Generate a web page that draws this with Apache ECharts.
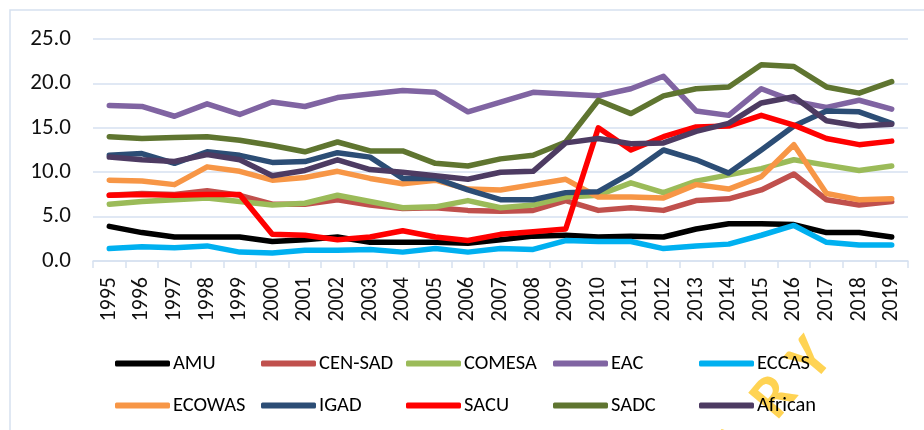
<!DOCTYPE html>
<html>
<head>
<meta charset="utf-8">
<script src="https://cdn.jsdelivr.net/npm/echarts@6/dist/echarts.min.js"></script>
<style>
  html, body { margin: 0; padding: 0; background: #fff; }
  #chart { width: 924px; height: 430px; }
</style>
</head>
<body>
<div id="chart"></div>
<script>
// values
var years = ['1995', '1996', '1997', '1998', '1999', '2000', '2001', '2002', '2003', '2004', '2005', '2006',
    '2007', '2008', '2009', '2010', '2011', '2012', '2013', '2014', '2015', '2016', '2017', '2018', '2019'];

var amu = [3.9, 3.2, 2.7, 2.7, 2.7, 2.2, 2.4, 2.7, 2.1, 2.1, 2.1, 2.0, 2.4, 2.8, 2.9, 2.7, 2.8, 2.7, 3.6, 4.2, 4.2, 4.1, 3.2, 3.2, 2.7];
var cenSad = [7.4, 7.6, 7.5, 7.9, 7.4, 6.4, 6.4, 6.9, 6.3, 5.9, 6.0, 5.7, 5.6, 5.7, 6.8, 5.7, 6.0, 5.7, 6.8, 7.0, 8.0, 9.8, 6.9, 6.3, 6.7];
var comesa = [6.4, 6.7, 6.9, 7.1, 6.7, 6.3, 6.5, 7.4, 6.7, 6.0, 6.1, 6.8, 6.0, 6.3, 7.2, 7.4, 8.8, 7.7, 9.0, 9.7, 10.4, 11.4, 10.8, 10.2, 10.7];
var eac = [17.5, 17.4, 16.3, 17.7, 16.5, 17.9, 17.4, 18.4, 18.8, 19.2, 19.0, 16.8, 17.9, 19.0, 18.8, 18.6, 19.4, 20.8, 16.9, 16.4, 19.4, 18.0, 17.3, 18.1, 17.1];
var eccas = [1.4, 1.6, 1.5, 1.7, 1.0, 0.9, 1.2, 1.2, 1.3, 1.0, 1.4, 1.0, 1.4, 1.3, 2.3, 2.2, 2.2, 1.4, 1.7, 1.9, 2.9, 4.0, 2.1, 1.8, 1.8];
var ecowas = [9.1, 9.0, 8.6, 10.6, 10.1, 9.1, 9.4, 10.1, 9.3, 8.7, 9.1, 8.1, 8.0, 8.6, 9.2, 7.2, 7.2, 7.1, 8.6, 8.1, 9.5, 13.1, 7.6, 6.9, 7.0];
var igad = [11.9, 12.1, 11.0, 12.3, 11.9, 11.1, 11.2, 12.2, 11.7, 9.3, 9.3, 8.0, 6.9, 6.9, 7.7, 7.8, 9.9, 12.5, 11.4, 9.9, 12.5, 15.2, 16.9, 16.8, 15.5];
var sacu = [7.4, 7.5, 7.4, 7.5, 7.5, 3.0, 2.9, 2.4, 2.7, 3.4, 2.7, 2.3, 3.0, 3.3, 3.6, 15.0, 12.5, 14.0, 15.1, 15.2, 16.4, 15.3, 13.8, 13.1, 13.5];
var sadc = [14.0, 13.8, 13.9, 14.0, 13.6, 13.0, 12.3, 13.4, 12.4, 12.4, 11.0, 10.7, 11.5, 11.9, 13.4, 18.1, 16.6, 18.6, 19.4, 19.6, 22.1, 21.9, 19.6, 18.9, 20.2];
var african = [11.7, 11.4, 11.2, 12.0, 11.4, 9.6, 10.2, 11.4, 10.3, 10.0, 9.6, 9.2, 10.0, 10.1, 13.3, 13.8, 13.2, 13.3, 14.6, 15.5, 17.8, 18.5, 15.8, 15.2, 15.4];

var names = ['AMU', 'CEN-SAD', 'COMESA', 'EAC', 'ECCAS', 'ECOWAS', 'IGAD', 'SACU', 'SADC', 'African'];
var values = [amu, cenSad, comesa, eac, eccas, ecowas, igad, sacu, sadc, african];
var colors = ['#000000', '#c0504d', '#9bbb59', '#8064a2', '#00b0f0', '#f79646', '#2c4d75', '#ff0000', '#5f7530', '#4d3b62'];

var gridColor = '#d6e1f0';
var textFont = 'Carlito, "Liberation Sans", Arial, sans-serif';

// legend slots: two rows of five, like the excel layout
var legendLeft = [115, 261, 406, 553, 699, 115, 261, 406, 553, 699];
var legendTop = [353, 353, 353, 353, 353, 395, 395, 395, 395, 395];

var chart = echarts.init(document.getElementById('chart'), null, { renderer: 'canvas' });

function buildSeries() {
    return names.map(function (n, i) {
        return {
            name: n,
            type: 'line',
            data: values[i],
            symbol: 'none',
            smooth: false,
            lineStyle: { width: 5.5, color: colors[i], cap: 'round', join: 'round' },
            itemStyle: { color: colors[i] },
            emphasis: { disabled: true }
        };
    });
}

function buildLegends() {
    return names.map(function (n, i) {
        return {
            data: [n],
            left: legendLeft[i],
            top: legendTop[i],
            padding: 0,
            icon: 'roundRect',
            itemWidth: 55,
            itemHeight: 6,
            selectedMode: false,
            textStyle: { fontFamily: textFont, fontSize: 20.5, color: '#000', padding: [0, 0, 0, -2] }
        };
    });
}

// watermark letters poking into the corner
function watermark() {
    var letters = [['A', 738, 448], ['R', 776, 398], ['Y', 812, 361]];
    return letters.map(function (l) {
        return {
            type: 'text',
            x: l[1],
            y: l[2],
            rotation: 50 * Math.PI / 180,
            z: 0,
            silent: true,
            style: {
                text: l[0],
                fill: 'rgba(255, 200, 40, 0.8)',
                font: 'bold 62px ' + textFont,
                align: 'center',
                verticalAlign: 'middle'
            }
        };
    });
}

var option = {
    animation: false,
    backgroundColor: '#fff',
    grid: { left: 93, right: 16, top: 39, bottom: 169, containLabel: false },
    xAxis: {
        type: 'category',
        data: years,
        boundaryGap: true,
        axisLine: { lineStyle: { color: gridColor, width: 1.5 } },
        axisTick: { show: true, interval: 0, length: 7, lineStyle: { color: gridColor, width: 1.5 } },
        axisLabel: { interval: 0, rotate: 90, margin: 16, color: '#111', fontFamily: textFont, fontSize: 22 },
        splitLine: { show: false }
    },
    yAxis: {
        type: 'value',
        min: 0,
        max: 25,
        interval: 5,
        axisLine: { show: false },
        axisTick: { show: false },
        axisLabel: {
            margin: 22,
            color: '#111',
            fontFamily: textFont,
            fontSize: 23,
            formatter: function (v) { return v.toFixed(1); }
        },
        splitLine: { lineStyle: { color: gridColor, width: 1.5 } }
    },
    legend: buildLegends(),
    graphic: [{
        type: 'rect',
        z: 0,
        silent: true,
        shape: { x: 10, y: 10, width: 960, height: 460 },
        style: { fill: 'none', stroke: gridColor, lineWidth: 1.5 }
    }].concat(watermark()),
    series: buildSeries()
};

chart.setOption(option);
</script>
</body>
</html>
